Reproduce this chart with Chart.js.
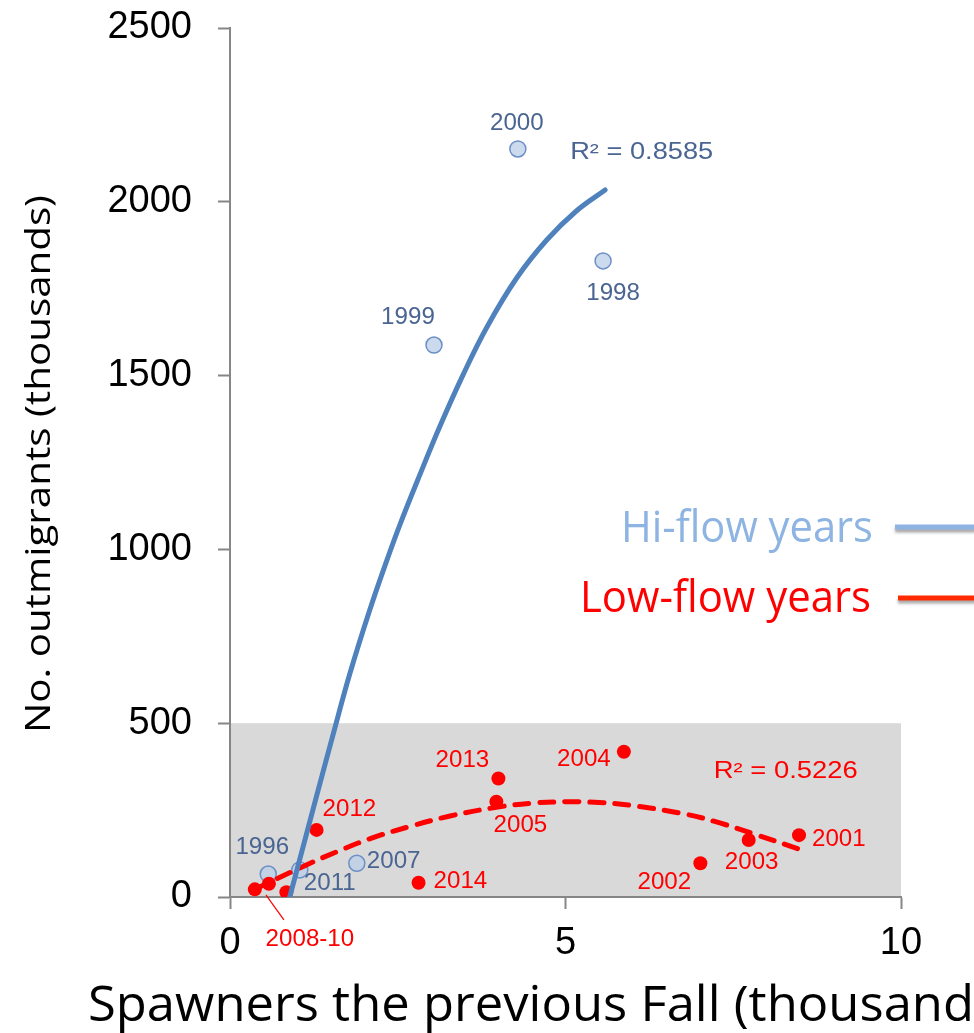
<!DOCTYPE html>
<html>
<head>
<meta charset="utf-8">
<script src="https://cdn.jsdelivr.net/npm/chart.js@4.4.0/dist/chart.umd.min.js"></script>
<style>
html,body{margin:0;padding:0;background:#fff;}
#wrap{width:974px;height:1033px;position:relative;}
</style>
</head>
<body>
<div id="wrap"><canvas id="c" width="974" height="1033"></canvas></div>
<script>
// ---- data ----
const hiYears = ['1996', '2011', '2007', '1999', '2000', '1998'];
const hiX = [0.57, 1.04, 1.89, 3.04, 4.29, 5.56];
const hiY = [66, 78, 97, 1588, 2152, 1830];

const lowYears = ['2008', '2009', '2010', '2012', '2014', '2013', '2005', '2004', '2002', '2003', '2001'];
const lowX = [0.37, 0.58, 0.84, 1.29, 2.81, 4.00, 3.97, 5.87, 7.01, 7.73, 8.48];
const lowY = [22, 38, 14, 193, 41, 341, 274, 418, 97, 164, 178];

// trend lines
const hiTrendX = [0.89, 1.09, 1.29, 1.54, 1.79, 2.09, 2.34, 2.53, 2.83, 3.13, 3.48, 3.83, 4.27, 4.72, 5.17, 5.59];
const hiTrendY = [0, 145, 290, 470, 645, 830, 970, 1070, 1215, 1355, 1505, 1640, 1780, 1890, 1975, 2034];
const lowTrendX = [0.37, 1.09, 1.59, 2.09, 2.68, 3.28, 3.97, 4.50, 5.02, 5.50, 5.96, 6.80, 7.30, 7.80, 8.49];
const lowTrendY = [22, 88, 130, 168, 203, 233, 258, 270, 274, 272, 264, 238, 213, 182, 137];

const hiR2 = 'R² = 0.8585';
const lowR2 = 'R² = 0.5226';
const xTicks = [0, 5, 10];
const yTicks = [0, 500, 1000, 1500, 2000, 2500];
const shadeTop = 500;

const xTitle = 'Spawners the previous Fall (thousands)';
const yTitle = 'No. outmigrants (thousands)';
const legendHi = 'Hi-flow years';
const legendLow = 'Low-flow years';

// ---- label placement (pixel offsets from each point) ----
const hiLabelPos = {
  '1996': [-6, -26, 'center'], '2011': [4, 14, 'left'], '2007': [10, -2, 'left'],
  '1999': [-26, -27, 'center'], '2000': [-1, -25, 'center'], '1998': [10, 33, 'center']
};
const lowLabelPos = {
  '2012': [6, -20, 'left'], '2014': [15, -1, 'left'], '2013': [-36, -18, 'center'],
  '2005': [24, 24, 'center'], '2004': [-40, 8, 'center'], '2002': [-36, 19, 'center'],
  '2003': [3, 23, 'center'], '2001': [13, 5, 'left']
};

const BLUE_TXT = '#4a6592';
const RED = '#ff0000';

function toPts(xs, ys) { return xs.map((x, i) => ({x: x, y: ys[i]})); }

function drawText(ctx, text, x, y, o) {
  ctx.save();
  ctx.font = o.font;
  ctx.fillStyle = o.color;
  ctx.textBaseline = o.baseline || 'middle';
  ctx.textAlign = 'left';
  const w = ctx.measureText(o.measure || text).width;
  const sx = o.width ? o.width / w : (o.sx || 1);
  const W = ctx.measureText(text).width * sx;
  let left = x;
  if (o.align === 'center') left = x - W / 2;
  else if (o.align === 'right') left = x - W;
  ctx.translate(left, y);
  ctx.scale(sx, 1);
  ctx.fillText(text, 0, 0);
  ctx.restore();
}

const decor = {
  id: 'decor',
  beforeDraw(chart) {
    const {ctx, scales: {x, y}} = chart;
    ctx.save();
    ctx.fillStyle = '#d9d9d9';
    const l = x.getPixelForValue(0), r = x.getPixelForValue(10);
    const t = y.getPixelForValue(shadeTop), b = y.getPixelForValue(0);
    ctx.fillRect(l, t, r - l, b - t);
    ctx.restore();
  },
  afterDatasetsDraw(chart) {
    const {ctx, scales: {x, y}} = chart;
    const f = '23px "Liberation Sans", Arial, sans-serif';
    hiYears.forEach((yr, i) => {
      const p = hiLabelPos[yr];
      if (!p) return;
      drawText(ctx, yr, x.getPixelForValue(hiX[i]) + p[0], y.getPixelForValue(hiY[i]) + p[1],
        {font: f, color: BLUE_TXT, align: p[2], sx: 1.05});
    });
    lowYears.forEach((yr, i) => {
      const p = lowLabelPos[yr];
      if (!p) return;
      drawText(ctx, yr, x.getPixelForValue(lowX[i]) + p[0], y.getPixelForValue(lowY[i]) + p[1],
        {font: f, color: RED, align: p[2], sx: 1.05});
    });
    // 2008-10 cluster label with leader
    const cx = x.getPixelForValue(lowX[1]), cy = y.getPixelForValue(lowY[1]);
    ctx.save();
    ctx.strokeStyle = RED; ctx.lineWidth = 1.2;
    ctx.beginPath(); ctx.moveTo(cx - 3, cy + 11); ctx.lineTo(cx + 15, cy + 36); ctx.stroke();
    ctx.restore();
    drawText(ctx, '2008-10', cx + 41, cy + 56, {font: f, color: RED, align: 'center', sx: 1.05});
    // R² labels
    drawText(ctx, hiR2, x.getPixelForValue(5.07), y.getPixelForValue(2140),
      {font: f, color: BLUE_TXT, align: 'left', width: 143});
    drawText(ctx, lowR2, x.getPixelForValue(7.21), y.getPixelForValue(362),
      {font: f, color: RED, align: 'left', width: 144});
  },
  afterDraw(chart) {
    const ctx = chart.ctx;
    const tf = '"Open Sans", sans-serif';
    // x title
    drawText(ctx, xTitle, 88, 1021, {font: '49px ' + tf, color: '#000', baseline: 'alphabetic',
      measure: 'Spawners the previous Fall (thousand', width: 886});
    // y title rotated
    ctx.save();
    ctx.font = '35px ' + tf;
    const w = ctx.measureText(yTitle).width;
    ctx.translate(50, 464);
    ctx.rotate(-Math.PI / 2);
    ctx.scale(538 / w, 1);
    ctx.fillStyle = '#000';
    ctx.textAlign = 'center';
    ctx.textBaseline = 'alphabetic';
    ctx.fillText(yTitle, 0, 0);
    ctx.restore();
    // legend
    drawText(ctx, legendHi, 621, 542, {font: '43px ' + tf, color: '#8db4e2', baseline: 'alphabetic', width: 252});
    drawText(ctx, legendLow, 580, 612, {font: '43px ' + tf, color: '#ff0000', baseline: 'alphabetic', width: 291});
    ctx.save();
    ctx.lineWidth = 5;
    ctx.shadowColor = 'rgba(0,0,0,0.35)';
    ctx.shadowOffsetY = 3; ctx.shadowBlur = 3;
    ctx.strokeStyle = '#8db4e2';
    ctx.beginPath(); ctx.moveTo(895, 527); ctx.lineTo(976, 527); ctx.stroke();
    ctx.strokeStyle = '#ff2a00';
    ctx.beginPath(); ctx.moveTo(898, 598); ctx.lineTo(976, 598); ctx.stroke();
    ctx.restore();
  }
};

new Chart(document.getElementById('c'), {
  type: 'scatter',
  data: {
    datasets: [
      {
        label: 'Hi-flow trend', data: toPts(hiTrendX, hiTrendY), showLine: true,
        borderColor: '#4f81bd', borderWidth: 5, pointRadius: 0, tension: 0.4,
        borderCapStyle: 'round', order: 0
      },
      {
        label: 'Low-flow trend', data: toPts(lowTrendX, lowTrendY), showLine: true,
        borderColor: '#ff0000', borderWidth: 5, pointRadius: 0, tension: 0.4,
        borderDash: [14, 11], borderCapStyle: 'round', order: 1
      },
      {
        label: 'Low-flow years', data: toPts(lowX, lowY), backgroundColor: '#ff0000',
        borderColor: '#ff0000', pointRadius: 7, borderWidth: 0, order: 2
      },
      {
        label: 'Hi-flow years', data: toPts(hiX, hiY), backgroundColor: 'rgba(185,205,229,0.75)',
        borderColor: '#6d8fc6', pointRadius: 8, borderWidth: 1.5, order: 3
      }
    ]
  },
  options: {
    responsive: false,
    animation: false,
    events: [],
    layout: {padding: {left: 0, top: 28, right: 73, bottom: 0}},
    plugins: {legend: {display: false}, tooltip: {enabled: false}, title: {display: false}},
    scales: {
      x: {
        type: 'linear', min: 0, max: 10,
        afterFit(s) { s.height = 136; s.paddingLeft = 0; s.paddingRight = 0; },
        afterBuildTicks(s) { s.ticks = xTicks.map(v => ({value: v})); },
        grid: {display: true, drawOnChartArea: false, drawTicks: true, tickLength: 12, tickColor: '#868686', tickWidth: 2},
        border: {display: true, color: '#868686', width: 2},
        ticks: {font: {size: 38, family: '"Liberation Sans", Arial, sans-serif'}, color: '#000', padding: 12, maxRotation: 0,
          callback: v => String(v)}
      },
      y: {
        type: 'linear', min: 0, max: 2500,
        afterFit(s) { s.width = 230; s.paddingTop = 0; s.paddingBottom = 0; },
        afterBuildTicks(s) { s.ticks = yTicks.map(v => ({value: v})); },
        grid: {display: true, drawOnChartArea: false, drawTicks: true, tickLength: 12, tickColor: '#868686', tickWidth: 2},
        border: {display: true, color: '#868686', width: 2},
        ticks: {font: {size: 38, family: '"Liberation Sans", Arial, sans-serif'}, color: '#000', padding: 26,
          callback: v => String(v)}
      }
    }
  },
  plugins: [decor]
});
</script>
</body>
</html>
